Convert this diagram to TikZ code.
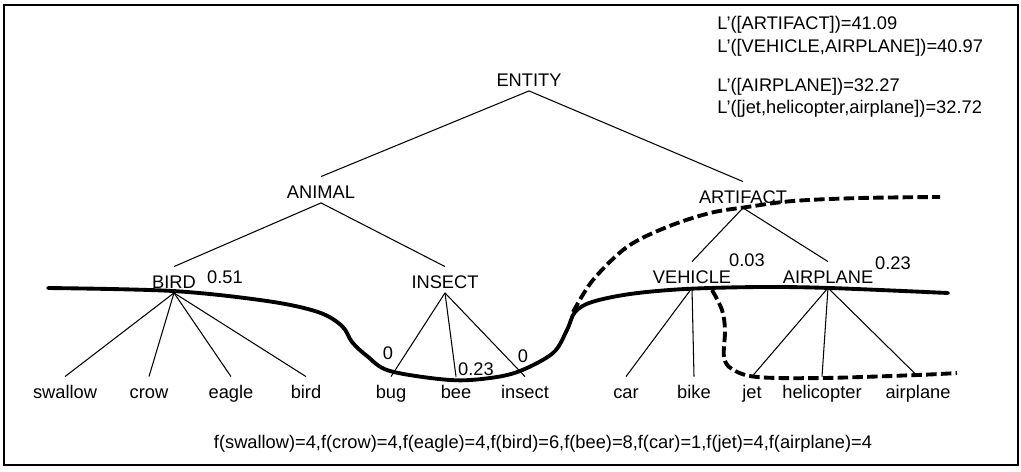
\documentclass[tikz,border=0pt]{standalone}
\usepackage{fontspec}
\setmainfont{Liberation Sans}
\begin{document}
\begin{tikzpicture}[x=0.02cm, y=-0.02cm, font=\fontsize{10.4}{12.5}\selectfont,
	nd/.style={anchor=base, inner sep=1pt, text height=11pt, text depth=1.6pt},
	val/.style={inner sep=0pt},
	note/.style={anchor=base west, inner sep=0pt},
	edge/.style={line width=0.6pt},
	cut/.style={line width=2.2pt, line cap=round},
	cutdash/.style={line width=2.2pt, dash pattern=on 6pt off 2.4pt}]
	\useasboundingbox (0,0) rectangle (1021,471);
	\draw[line width=0.8pt] (4,5) rectangle (1018,465);
	% concepts
	\node[nd] (entity) at (529,86) {ENTITY};
	\node[nd] (animal) at (321,198) {ANIMAL};
	\node[nd] (artifact) at (743,203) {ARTIFACT};
	\node[nd] (bird) at (174,288) {BIRD};
	\node[nd] (insect) at (445,288) {INSECT};
	\node[nd] (vehicle) at (692,283) {VEHICLE};
	\node[nd] (airplane) at (828,283) {AIRPLANE};
	% words
	\node[nd] (w-swallow) at (65,398) {swallow};
	\node[nd] (w-crow) at (149,398) {crow};
	\node[nd] (w-eagle) at (231,398) {eagle};
	\node[nd] (w-bird) at (306,398) {bird};
	\node[nd] (w-bug) at (391,398) {bug};
	\node[nd] (w-bee) at (456,398) {bee};
	\node[nd] (w-insect) at (525,398) {insect};
	\node[nd] (w-car) at (626,398) {car};
	\node[nd] (w-bike) at (694,398) {bike};
	\node[nd] (w-jet) at (752,398) {jet};
	\node[nd] (w-helicopter) at (822,398) {helicopter};
	\node[nd] (w-airplane) at (918,398) {airplane};
	% tree
	\draw[edge] (animal.north) -- (entity.south) -- (artifact.north);
	\draw[edge] (bird.north) -- (animal.south) -- (insect.north);
	\draw[edge] (vehicle.north) -- (artifact.south) -- (airplane.north);
	\foreach \w in {swallow,crow,eagle,bird}
		\draw[edge] (bird.south) -- (w-\w.north);
	\foreach \w in {bug,bee,insect}
		\draw[edge] (insect.south) -- (w-\w.north);
	\foreach \w in {car,bike}
		\draw[edge] (vehicle.south) -- (w-\w.north);
	\foreach \w in {jet,helicopter,airplane}
		\draw[edge] (airplane.south) -- (w-\w.north);
	% values
	\node[val] (v-bird) at (225,277) {0.51};
	\node[val] (v-bug) at (388,353) {0};
	\node[val] (v-bee) at (476,369) {0.23};
	\node[val] (v-insect) at (523,356) {0};
	\node[val] (v-vehicle) at (747,260) {0.03};
	\node[val] (v-airplane) at (893,263) {0.23};
	% cuts
	\draw[cut] plot[smooth, tension=0.55] coordinates {(48,288) (173,291) (267,301) (318,312) (342,326) (352,342) (367,356) (390,371) (450,380) (490,378) (520,371) (553,353) (567,330) (575,312) (592,302) (630,294) (685,289) (760,287) (830,288) (948,293)};
	\draw[cutdash] plot[smooth, tension=0.55] coordinates {(573,312) (593,280) (627,247) (667,227) (710,213) (747,207) (793,201) (860,198) (940,197)};
	\draw[cutdash] plot[smooth, tension=0.55] coordinates {(712,290) (722,310) (725,330) (724,357) (732,369) (757,377) (823,378) (917,375) (957,373)};
	% description lengths
	\node[note] (l-artifact) at (717,29) {L'([ARTIFACT])=41.09};
	\node[note] (l-vehicle) at (717,52) {L'([VEHICLE,AIRPLANE])=40.97};
	\node[note] (l-airplane) at (717,91) {L'([AIRPLANE])=32.27};
	\node[note] (l-words) at (717,113) {L'([jet,helicopter,airplane])=32.72};
	\node[anchor=base] (freq) at (543,448) {f(swallow)=4,f(crow)=4,f(eagle)=4,f(bird)=6,f(bee)=8,f(car)=1,f(jet)=4,f(airplane)=4};
\end{tikzpicture}
\end{document}
